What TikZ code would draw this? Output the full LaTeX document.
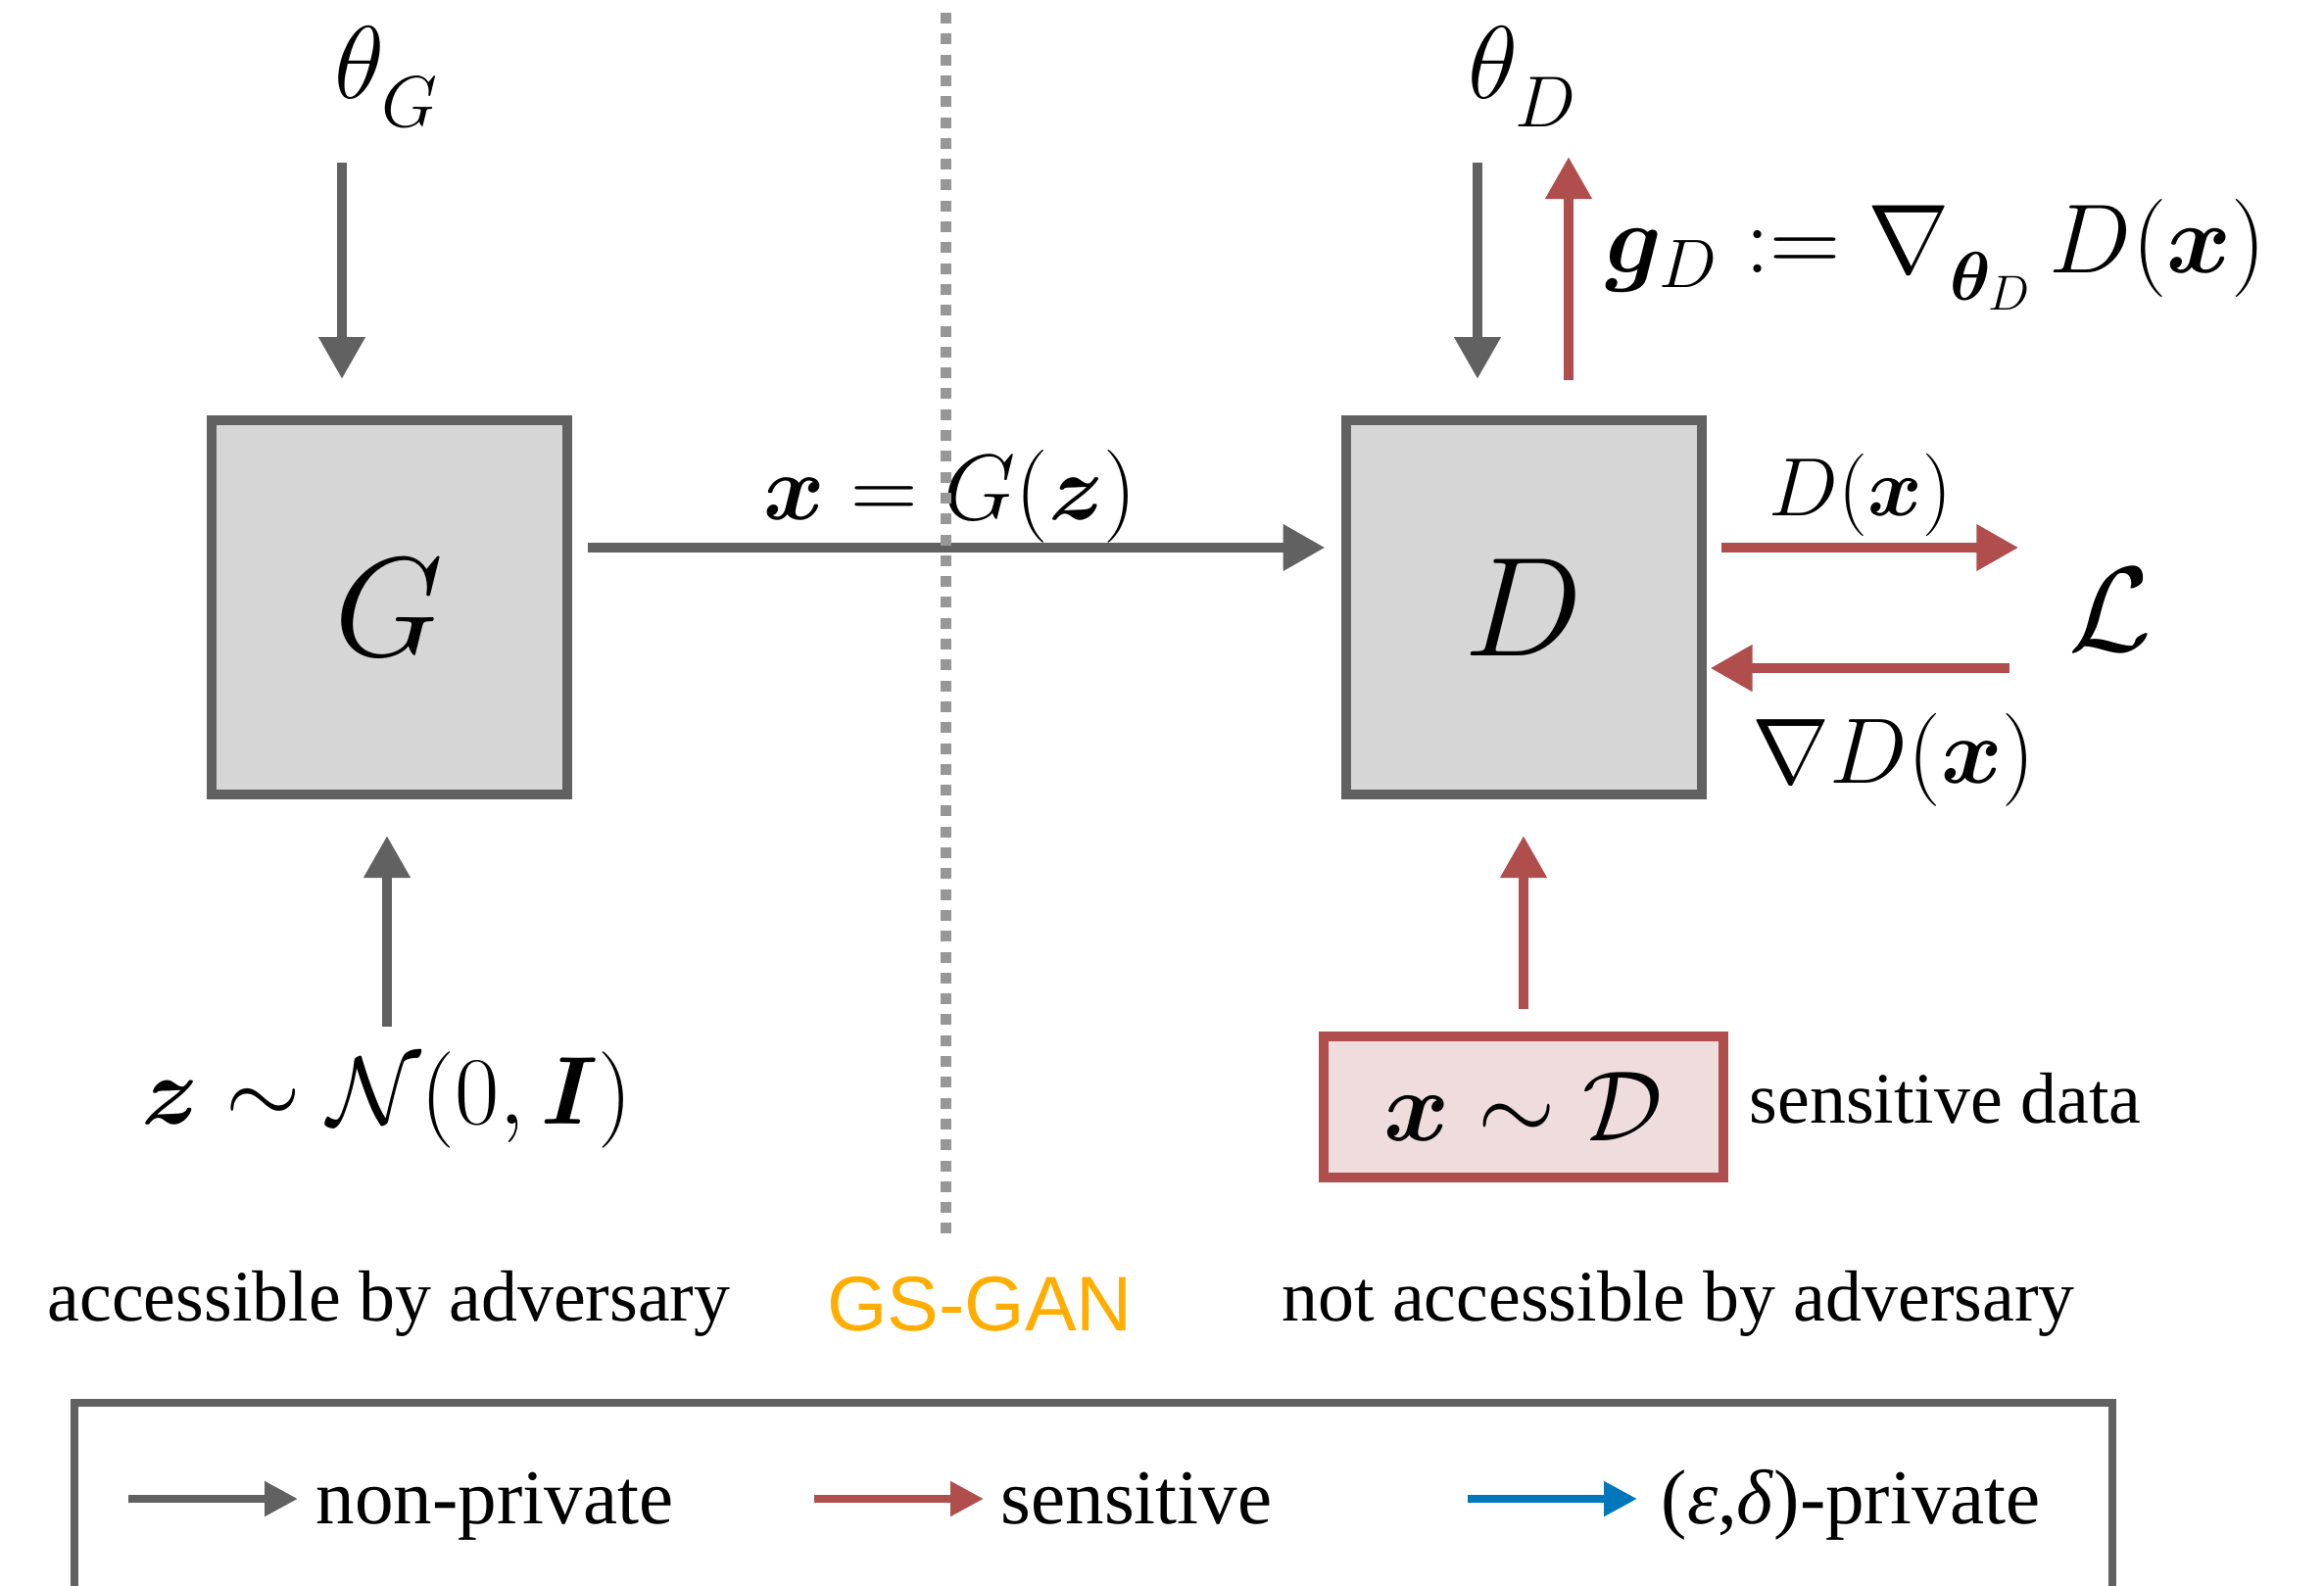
\RequirePackage{fix-cm}
\documentclass[tikz,border=0pt]{standalone}
\usepackage{amsmath, amssymb}
\usepackage[no-math]{fontspec}
\setmainfont{Liberation Serif}
\newfontfamily\ganfont{Liberation Sans}
\usepackage{bm}
\definecolor{arrowGray}{HTML}{616161}
\definecolor{boxGray}{HTML}{D6D6D6}
\definecolor{sensRed}{HTML}{B04E4E}
\definecolor{dataPink}{HTML}{EFDCDD}
\definecolor{privBlue}{HTML}{0077BB}
\definecolor{ganOrange}{HTML}{FFAE00}
\definecolor{dividerGray}{HTML}{979797}
\usetikzlibrary{arrows.meta, positioning, calc}

\begin{document}
\begin{tikzpicture}[
    netbox/.style={rectangle, draw=arrowGray, fill=boxGray, line width=1mm, minimum width=3.63cm, minimum height=3.82cm, inner sep=0pt, outer sep=0pt, font=\fontsize{41}{49}\selectfont},
    databox/.style={rectangle, draw=sensRed, fill=dataPink, line width=1.05mm, minimum width=4.08cm, minimum height=1.44cm, inner sep=0pt, outer sep=0pt, font=\fontsize{29}{35}\selectfont},
    mlbl/.style={inner sep=0pt, font=\fontsize{29}{35}\selectfont},
    txt/.style={inner sep=0pt, font=\fontsize{21}{25}\selectfont},
    legtxt/.style={inner sep=0pt, anchor=base west, font=\fontsize{22.5}{27}\selectfont},
    arr/.style={-{Triangle[length=4.3mm, width=4.5mm]}, line width=1.05mm},
    garr/.style={arr, arrowGray},
    rarr/.style={arr, sensRed},
    legarr/.style={-{Triangle[length=3.4mm, width=3.4mm]}, line width=0.8mm}
]
\useasboundingbox (0,0) rectangle (23.72,-16.19);
\clip (0,0) rectangle (23.72,-16.19);

% Generator (accessible side)
\node[netbox] (G) at (3.97,-6.2) {$G$};
\node[mlbl, font=\fontsize{30}{36}\selectfont] (thetaG) at (3.95,-0.78) {$\theta^{}_G$};
\node[mlbl, font=\fontsize{28}{34}\selectfont] (noise) at (3.95,-11.23) {$\bm{z}\sim\mathcal{N}(0,\bm{I})$};
\coordinate (thetaGin) at (3.49,-1.66);

% Discriminator (sensitive side)
\node[netbox] (D) at (15.55,-6.2) {$D$};
\node[mlbl, font=\fontsize{30}{36}\selectfont] (thetaD) at (15.54,-0.78) {$\theta^{}_D$};
\coordinate (thetaDin) at (15.08,-1.66);
\coordinate (gradout) at (16.01,-1.60);
\node[mlbl, anchor=west, font=\fontsize{28.5}{34}\selectfont] (gD) at (16.38,-2.60) {$\bm{g}_D := \nabla^{}_{\bm{\theta}_D}\, D(\bm{x})$};
\node[mlbl, font=\fontsize{35}{42}\selectfont, minimum width=1.6cm] (loss) at (21.54,-6.22) {$\mathcal{L}$};
\node[mlbl, font=\fontsize{24}{29}\selectfont] (dout) at (18.99,-5.05) {$D(\bm{x})$};
\node[mlbl, font=\fontsize{27}{32}\selectfont] (dgrad) at (19.33,-7.76) {$\nabla D(\bm{x})$};
\node[databox] (data) at (15.55,-11.30) {$\bm{x}\sim\mathcal{D}$};
\node[txt, anchor=base west] (senslbl) at (17.85,-11.46) {sensitive data};

% Generated sample
\node[mlbl, font=\fontsize{27}{32}\selectfont] (gen) at (9.70,-5.07) {$\bm{x} = G(\bm{z})$};

% Arrows
\draw[garr, shorten >=4.2mm] (thetaGin) -- (thetaGin |- G.north);
\draw[garr, shorten >=4.2mm] (thetaDin) -- (thetaDin |- D.north);
\draw[rarr, shorten <=4.1mm] (gradout |- D.north) -- (gradout);
\draw[garr, shorten <=2.5mm, shorten >=4.2mm] (noise.north) -- (noise.north |- G.south);
\draw[garr, shorten <=2.1mm, shorten >=2.1mm] ([yshift=6.1mm]G.east) -- ([yshift=6.1mm]D.west);
\draw[rarr, shorten <=2mm, shorten >=1.3mm] ([yshift=6.1mm]D.east) -- ([yshift=6.1mm]D.east -| loss.west);
\draw[rarr, shorten <=2.2mm, shorten >=0.9mm] ([yshift=-6.2mm]D.east -| loss.west) -- ([yshift=-6.2mm]D.east);
\draw[rarr, shorten <=2.8mm, shorten >=4.2mm] (data) -- (D);

% Divider
\coordinate (divtop) at (9.655,-0.13);
\coordinate (divbot) at (9.655,-12.62);
\draw[dividerGray, line width=1.1mm, dash pattern=on 1.1mm off 1.03mm] (divtop) -- (divbot);

% Side captions
\node[txt, anchor=base] (acc) at (3.97,-13.48) {accessible by adversary};
\node[inner sep=0pt, anchor=base, text=ganOrange, font=\ganfont\fontsize{22.5}{27}\selectfont] (gsgan) at (10.00,-13.58) {GS-GAN};
\node[txt, anchor=base] (noacc) at (17.13,-13.48) {not accessible by adversary};

% Legend
\draw[arrowGray, line width=0.75mm] (0.76,-14.32) rectangle (21.56,-16.6);
\node[legtxt] (lnonpriv) at (3.22,-15.55) {non-private};
\node[legtxt] (lsens) at (10.21,-15.55) {sensitive};
\node[legtxt] (lpriv) at (16.95,-15.55) {(\textit{ε},\textit{δ})-private};
\coordinate (lnpstart) at (1.31,-15.30);
\coordinate (lsstart) at (8.31,-15.30);
\coordinate (lpstart) at (14.98,-15.30);
\draw[legarr, arrowGray, shorten >=1.8mm] (lnpstart) -- (lnpstart -| lnonpriv.west);
\draw[legarr, sensRed, shorten >=1.7mm] (lsstart) -- (lsstart -| lsens.west);
\draw[legarr, privBlue, shorten >=2.4mm] (lpstart) -- (lpstart -| lpriv.west);

\end{tikzpicture}
\end{document}
